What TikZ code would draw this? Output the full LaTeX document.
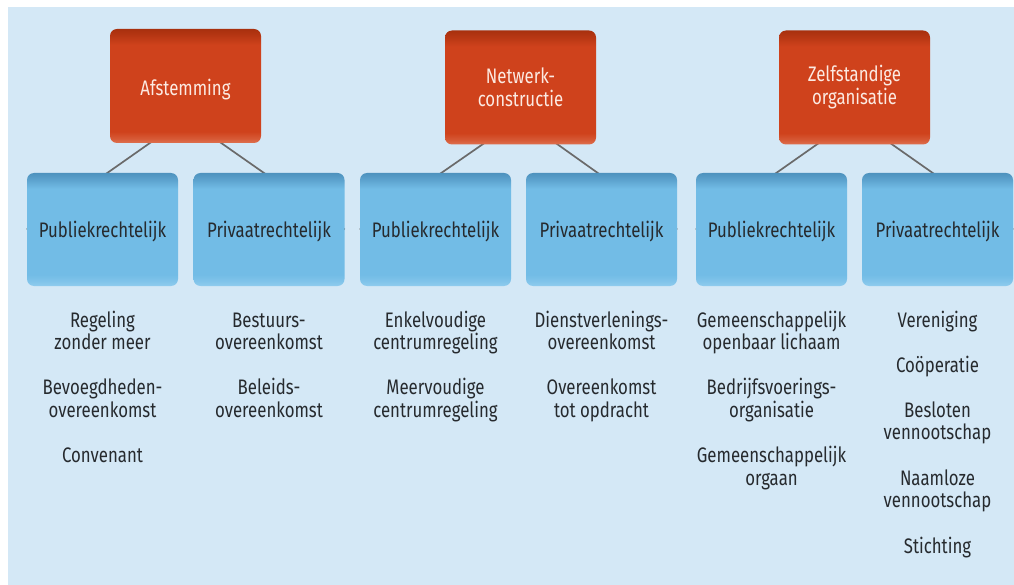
\documentclass[tikz,border=0pt]{standalone}
\usepackage{fontspec}
\setmainfont{Fira Sans}[FakeStretch=0.8]
\definecolor{bgblue}{HTML}{D4E8F6}
\definecolor{bluemain}{HTML}{72BCE6}
\definecolor{bluelight}{HTML}{90CCEE}
\definecolor{bluedark}{HTML}{4E92BE}
\definecolor{redmain}{HTML}{CF421C}
\definecolor{redlight}{HTML}{DE7150}
\definecolor{reddark}{HTML}{A8300E}
\definecolor{linegray}{HTML}{6A6A6A}
\definecolor{txt}{HTML}{262A2E}
\definecolor{redtxt}{HTML}{FCEAE2}
% y axis is flipped in the picture, so low bp values end up at the top
\pgfdeclareverticalshading{blueshade}{100bp}{color(0bp)=(bluelight); color(25bp)=(bluelight); color(27bp)=(bluelight!50!bluemain); color(30bp)=(bluemain); color(68bp)=(bluemain); color(72bp)=(bluedark!60!bluemain); color(75bp)=(bluedark); color(100bp)=(bluedark)}
\pgfdeclareverticalshading{redshade}{100bp}{color(0bp)=(redlight); color(25bp)=(redlight); color(27bp)=(redlight!50!redmain); color(30bp)=(redmain); color(68bp)=(redmain); color(72bp)=(reddark!60!redmain); color(75bp)=(reddark); color(100bp)=(reddark)}
\pgfdeclarelayer{back}
\pgfdeclarelayer{lines}
\pgfsetlayers{back,lines,main}
\begin{document}
\begin{tikzpicture}[x=1pt,y=-1pt,
  redbox/.style={shading=redshade, rounded corners=7pt, minimum width=151pt, minimum height=114pt,
     inner sep=0pt, align=center, text=redtxt, font=\fontsize{21}{23}\selectfont},
  bluebox/.style={shading=blueshade, rounded corners=7pt, minimum width=151pt, minimum height=113pt,
     inner sep=0pt, align=center, text=txt, font=\fontsize{21}{23}\selectfont},
  item/.style={anchor=base, align=center, text=txt, inner sep=0pt, font=\fontsize{21}{22.6}\selectfont},
  conn/.style={draw=linegray, line width=1.7pt}]
\useasboundingbox (0,0) rectangle (1014,585);
\begin{pgfonlayer}{back}
\fill[white] (0,0) rectangle (1014,585);
\fill[bgblue] (8,7) rectangle (1014,585);
\end{pgfonlayer}
% top boxes
\node[redbox] (r1) at (185.5,86) {\raisebox{-3.5pt}[\height][\depth]{Afstemming}};
\node[redbox] (r2) at (520.5,87.5) {Netwerk-\\constructie};
\node[redbox] (r3) at (854.5,87.5) {Zelfstandige\\organisatie};
% second row
\node[bluebox] (b1) at (102.5,229.5) {\raisebox{-2pt}[\height][\depth]{Publiekrechtelijk}};
\node[bluebox] (b2) at (269,229.5) {\raisebox{-2pt}[\height][\depth]{Privaatrechtelijk}};
\node[bluebox] (b3) at (435.5,229.5) {\raisebox{-2pt}[\height][\depth]{Publiekrechtelijk}};
\node[bluebox] (b4) at (601.5,229.5) {\raisebox{-2pt}[\height][\depth]{Privaatrechtelijk}};
\node[bluebox] (b5) at (771.5,229.5) {\raisebox{-2pt}[\height][\depth]{Publiekrechtelijk}};
\node[bluebox] (b6) at (937.5,229.5) {\raisebox{-2pt}[\height][\depth]{Privaatrechtelijk}};
% connectors
\coordinate (a1) at (185.5,118);
\coordinate (a2) at (520.5,118);
\coordinate (a3) at (854.5,118);
\begin{pgfonlayer}{lines}
\draw[conn] (a1) -- (b1.west);
\draw[conn] (a1) -- (b2.east);
\draw[conn] (a2) -- (b3.west);
\draw[conn] (a2) -- (b4.east);
\draw[conn] (a3) -- (b5.west);
\draw[conn] (a3) -- (b6.east);
\end{pgfonlayer}
% lists (anchor: baseline of last line)
\node[item] (l11) at (102.5,349.6) {Regeling\\zonder meer};
\node[item] (l12) at (102.5,417.4) {Bevoegdheden-\\overeenkomst};
\node[item] (l13) at (102.5,462.6) {Convenant};
\node[item] (l21) at (269,349.6) {Bestuurs-\\overeenkomst};
\node[item] (l22) at (269,417.4) {Beleids-\\overeenkomst};
\node[item] (l31) at (435.5,349.6) {Enkelvoudige\\centrumregeling};
\node[item] (l32) at (435.5,417.4) {Meervoudige\\centrumregeling};
\node[item] (l41) at (601.5,349.6) {Dienstverlenings-\\overeenkomst};
\node[item] (l42) at (601.5,417.4) {Overeenkomst\\tot opdracht};
\node[item] (l51) at (771.5,349.6) {Gemeenschappelijk\\openbaar lichaam};
\node[item] (l52) at (771.5,417.4) {Bedrijfsvoerings-\\organisatie};
\node[item] (l53) at (771.5,485.2) {Gemeenschappelijk\\orgaan};
\node[item] (l61) at (937.5,327) {Vereniging};
\node[item] (l62) at (937.5,372.2) {Coöperatie};
\node[item] (l63) at (937.5,439.9) {Besloten\\vennootschap};
\node[item] (l64) at (937.5,507.7) {Naamloze\\vennootschap};
\node[item] (l65) at (937.5,553) {Stichting};
\end{tikzpicture}
\end{document}
